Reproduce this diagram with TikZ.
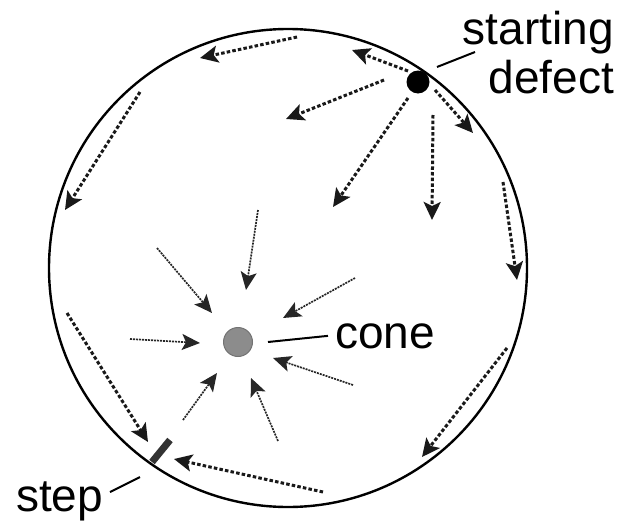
\documentclass[tikz,border=0pt]{standalone}
\usepackage{fontspec}
\setmainfont{Liberation Sans}
\usetikzlibrary{arrows.meta}

\begin{document}
\begin{tikzpicture}[
    x=1pt, y=-1pt,
    every node/.style={font=\fontsize{46}{49}\selectfont, inner sep=0pt},
    rim/.style={draw, line width=2.4pt},
    flow/.style={-{Stealth[length=18pt, width=17pt, inset=4pt]}, line width=3pt, dash pattern=on 3.5pt off 2.2pt, draw=black!90},
    inflow/.style={-{Stealth[length=18pt, width=16pt, inset=4pt]}, line width=1.7pt, dash pattern=on 2pt off 1pt, draw=black!85},
    leader/.style={line width=2pt},
    defectdot/.style={circle, fill=black, minimum size=23pt},
    conedot/.style={circle, fill=black!45, draw=black!55, line width=1pt, minimum size=29pt},
    stepbar/.style={line width=7pt, draw=black!80}
]
    \useasboundingbox (0,0) rectangle (629,522);

    % crucible rim
    \draw [rim] (288,268) circle (239);

    % markers
    \node (defect) [defectdot] at (418,82) {};
    \node (cone) [conedot] at (238,342) {};
    \coordinate (stepin) at (170,440);
    \coordinate (stepout) at (152,462);
    \draw [stepbar] (stepout) -- (stepin);

    % labels
    \node (startlbl) [anchor=base east, align=right] at (614,93) {starting\\defect};
    \node (conelbl) [anchor=base west] at (335,348) {cone};
    \node (steplbl) [anchor=base west] at (16,511) {step};
    \draw [leader] (437,67) -- (475,52);
    \draw [leader] ([xshift=15pt]cone.east) -- ([xshift=-7pt]conelbl.west);
    \draw [leader] (110,492) -- (140,477);

    % flow along and out of the rim
    \draw [flow] (297,37) -- (200,58);
    \draw [flow] (408,71) -- (352,50);
    \draw [flow] (435,90) -- (473,133);
    \draw [flow] (384,80) -- (286,119);
    \draw [flow] (408,98) -- (333,207);
    \draw [flow] (433,115) -- (432,220);
    \draw [flow] (140,92) -- (65,210);
    \draw [flow] (503,182) -- (517,280);
    \draw [flow] (507,348) -- (422,457);
    \draw [flow] (323,492) -- (174,459);
    \draw [flow] (67,313) -- (148,442);

    % flow towards the cone
    \draw [inflow] (258,210) -- (246,290);
    \draw [inflow] (157,248) -- (212,313);
    \draw [inflow] (355,278) -- (283,318);
    \draw [inflow] (130,339) -- (200,343);
    \draw [inflow] (353,385) -- (273,358);
    \draw [inflow] (183,420) -- (217,373);
    \draw [inflow] (278,441) -- (251,378);
\end{tikzpicture}
\end{document}
